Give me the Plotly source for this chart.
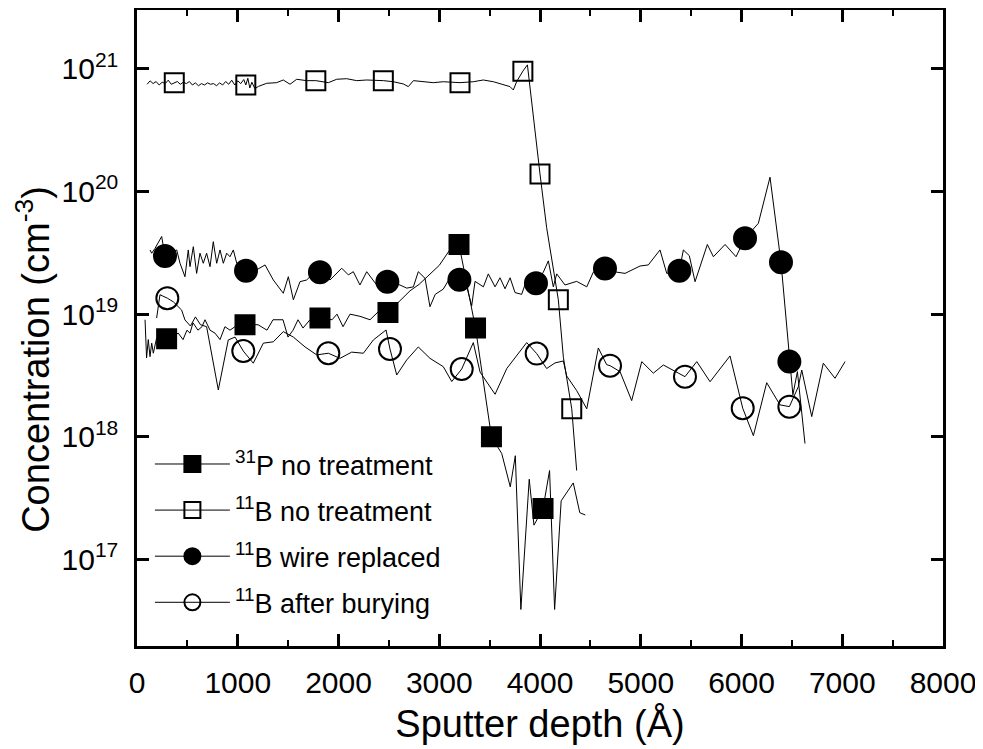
import plotly.graph_objects as go

# ---------------- data (depth in Å, concentration in cm^-3) ----------------
p_x = [80, 95, 112, 129, 146, 162, 195, 294, 409, 457, 496, 526, 556, 605, 645, 675, 725, 774, 824, 873,
       923, 972, 1072, 1201, 1290, 1350, 1449, 1499, 1549, 1598, 1648, 1717, 1816, 1936, 1985, 2045, 2114,
       2213, 2313, 2412, 2491, 2610, 2710, 2800, 2900, 3000, 3100, 3196, 3360, 3415, 3518, 3620, 3705,
       3755, 3810, 3893, 3940, 4030, 4095, 4145, 4210, 4330, 4395, 4450]
p_y = [9.0e18, 4.4e18, 6.2e18, 4.5e18, 5.8e18, 4.8e18, 6.4e18, 6.3e18, 7.0e18, 6.2e18, 7.4e18, 7.0e18,
       8.5e18, 7.4e18, 7.9e18, 9.0e18, 7.4e18, 7.0e18, 6.2e18, 7.9e18, 7.4e18, 7.9e18, 8.2e18, 8.2e18,
       7.4e18, 9.0e18, 9.0e18, 6.5e18, 7.4e18, 9.0e18, 7.7e18, 9.0e18, 9.3e18, 9.0e18, 1.0e19, 7.9e18,
       1.0e19, 9.6e18, 9.0e18, 1.08e19, 1.03e19, 1.3e19, 1.55e19, 1.75e19, 2.1e19, 2.5e19, 3.3e19, 3.7e19,
       7.7e18, 3.85e18, 1.0e18, 7.3e17, 3.9e17, 7.0e17, 3.9e16, 4.5e17, 1.9e17, 2.6e17, 5.3e17, 3.9e16,
       3.0e17, 4.2e17, 2.4e17, 2.3e17]
p_marks = [294, 1072, 1816, 2491, 3196, 3360, 3518, 4030]

bnt_x = [100, 130, 160, 190, 220, 250, 280, 310, 340, 370, 400, 430, 460, 490, 520, 550, 580, 610, 640,
         670, 700, 730, 760, 790, 820, 850, 880, 910, 940, 970, 1000, 1030, 1060, 1080, 1100, 1120, 1140,
         1170, 1204, 1287, 1386, 1452, 1519, 1585, 1684, 1775, 1899, 1982, 2081, 2181, 2280, 2445, 2544,
         2643, 2693, 2743, 2842, 2941, 3040, 3206, 3338, 3437, 3537, 3636, 3702, 3735, 3769, 3830, 3875,
         4000, 4066, 4182, 4232, 4315, 4364]
bnt_y = [7.5e20, 8.0e20, 7.6e20, 7.9e20, 7.4e20, 7.8e20, 7.6e20, 8.1e20, 7.5e20, 7.73e20, 7.9e20, 7.5e20,
         7.8e20, 7.6e20, 7.9e20, 7.4e20, 7.7e20, 7.3e20, 7.6e20, 7.4e20, 7.7e20, 7.5e20, 7.6e20, 7.3e20,
         7.7e20, 7.4e20, 7.9e20, 7.5e20, 8.1e20, 7.4e20, 8.0e20, 7.6e20, 8.2e20, 7.4e20, 8.4e20, 7.0e20,
         7.8e20, 6.9e20, 7.2e20, 7.64e20, 7.73e20, 8.13e20, 7.5e20, 8.24e20, 8.03e20, 8.03e20, 7.73e20,
         8.24e20, 8.33e20, 8.03e20, 8.13e20, 8.03e20, 7.87e20, 7.55e20, 7.18e20, 8.03e20, 7.87e20, 7.73e20,
         7.87e20, 7.73e20, 7.87e20, 8.13e20, 7.87e20, 7.4e20, 7.18e20, 6.74e20, 7.9e20, 9.6e20, 1.08e21,
         1.39e20, 5.07e19, 1.31e19, 4.45e18, 1.69e18, 5.3e17]
bnt_marks = [370, 1080, 1775, 2445, 3206, 3830, 4000, 4182, 4315]

bw_x = [129, 146, 179, 245, 278, 394, 427, 476, 509, 526, 559, 592, 625, 658, 691, 725, 757, 791, 824, 857,
        890, 923, 956, 990, 1082, 1188, 1271, 1353, 1452, 1502, 1552, 1618, 1684, 1750, 1816, 1916, 2032,
        2098, 2147, 2213, 2280, 2379, 2485, 2610, 2677, 2743, 2792, 2859, 2908, 2960, 3040, 3110, 3200,
        3273, 3322, 3355, 3438, 3487, 3554, 3603, 3653, 3703, 3752, 3818, 3868, 3960, 4033, 4083, 4132,
        4166, 4248, 4364, 4464, 4529, 4645, 4762, 4844, 4993, 5075, 5191, 5258, 5383, 5423, 5482, 5539,
        5661, 5721, 5837, 5946, 6035, 6167, 6283, 6392, 6475, 6510, 6555, 6630]
bw_y = [3.34e19, 3.14e19, 3.44e19, 4.3e19, 2.98e19, 3.34e19, 2.6e19, 2.02e19, 3.34e19, 2.44e19, 3.55e19,
        2.15e19, 3.14e19, 2.6e19, 3.14e19, 2.44e19, 3.9e19, 2.6e19, 3.34e19, 2.6e19, 3.14e19, 2.94e19,
        3.34e19, 2.6e19, 2.26e19, 2.3e19, 2.52e19, 1.9e19, 1.48e19, 2.02e19, 1.31e19, 1.84e19, 1.9e19,
        2.15e19, 2.2e19, 1.9e19, 2.37e19, 2.09e19, 2.22e19, 1.73e19, 2.22e19, 1.73e19, 1.84e19, 1.73e19,
        1.63e19, 1.67e19, 2.22e19, 1.96e19, 1.15e19, 1.45e19, 1.6e19, 2.0e19, 1.91e19, 1.67e19, 1.17e19,
        1.85e19, 1.67e19, 2.13e19, 1.67e19, 1.98e19, 1.61e19, 1.98e19, 1.5e19, 1.45e19, 1.91e19, 1.79e19,
        2.2e19, 2.72e19, 1.67e19, 2.13e19, 1.73e19, 1.85e19, 1.67e19, 2.2e19, 2.36e19, 2.2e19, 2.15e19,
        2.47e19, 2.52e19, 3.34e19, 2.15e19, 2.26e19, 3.34e19, 3.0e19, 1.84e19, 3.7e19, 2.94e19, 3.7e19,
        2.94e19, 4.16e19, 5.5e19, 1.31e20, 2.65e19, 4.1e18, 2.2e18, 3.4e18, 8.8e17]
bw_marks = [278, 1082, 1816, 2485, 3200, 3960, 4645, 5383, 6035, 6392, 6475]

ba_x = [195, 228, 301, 361, 443, 476, 530, 580, 630, 691, 807, 906, 973, 1055, 1154, 1254, 1353, 1452,
        1552, 1668, 1784, 1899, 2015, 2131, 2247, 2346, 2472, 2511, 2578, 2677, 2792, 2908, 3040, 3124,
        3223, 3338, 3405, 3554, 3670, 3868, 3967, 4066, 4149, 4232, 4265, 4364, 4464, 4579, 4662, 4695,
        4794, 4910, 5010, 5125, 5224, 5439, 5556, 5688, 5886, 6012, 6118, 6250, 6382, 6475, 6564, 6598,
        6697, 6812, 6928, 7028]
ba_y = [9.3e18, 1.44e19, 1.35e19, 1.26e19, 1.08e19, 8.97e18, 8.0e18, 9.5e18, 8.2e18, 7.9e18, 2.41e18,
        6.16e18, 6.5e18, 5.0e18, 3.98e18, 5.8e18, 5.95e18, 7.2e18, 6.5e18, 5.4e18, 4.65e18, 4.8e18,
        4.36e18, 4.9e18, 4.8e18, 6.16e18, 7.43e18, 5.2e18, 3.19e18, 4.23e18, 5.4e18, 4.36e18, 3.73e18,
        2.82e18, 3.57e18, 5.86e18, 3.37e18, 2.22e18, 3.6e18, 5.86e18, 4.77e18, 3.6e18, 4.0e18, 4.15e18,
        3.13e18, 2.38e18, 1.69e18, 5.3e18, 3.87e18, 3.8e18, 3.4e18, 1.97e18, 4.1e18, 3.3e18, 3.85e18,
        3.09e18, 4.1e18, 2.81e18, 4.56e18, 1.71e18, 1.02e18, 2.76e18, 1.82e18, 1.76e18, 2.56e18, 3.5e18,
        1.46e18, 3.98e18, 3.0e18, 4.1e18]
ba_marks = [301, 1055, 1899, 2511, 3223, 3967, 4695, 5439, 6012, 6475]

series = [
    ("<sup>31</sup>P no treatment", p_x, p_y, p_marks, "square", 19),
    ("<sup>11</sup>B no treatment", bnt_x, bnt_y, bnt_marks, "square-open", 19),
    ("<sup>11</sup>B wire replaced", bw_x, bw_y, bw_marks, "circle", 22),
    ("<sup>11</sup>B after burying", ba_x, ba_y, ba_marks, "circle-open", 22),
]

FONT = "Arial, Liberation Sans, sans-serif"
NARROW = "Liberation Sans Narrow, Arial Narrow, Liberation Sans, sans-serif"
fig = go.Figure()

for i, (name, xs, ys, marks, sym, size) in enumerate(series):
    fig.add_trace(go.Scatter(x=xs, y=ys, mode="lines", line=dict(color="black", width=1),
                             showlegend=False, hoverinfo="skip"))
for i, (name, xs, ys, marks, sym, size) in enumerate(series):
    mx = [x for x in xs if x in marks]
    my = [y for x, y in zip(xs, ys) if x in marks]
    fig.add_trace(go.Scatter(x=mx, y=my, mode="markers",
                             marker=dict(symbol=sym, size=size, color="black",
                                         line=dict(color="black", width=2)),
                             showlegend=False))
for i, (name, xs, ys, marks, sym, size) in enumerate(series):
    fig.add_trace(go.Scatter(x=[None], y=[None], mode="lines+markers", name=name,
                             legendgroup=f"g{i}",
                             line=dict(color="black", width=1),
                             marker=dict(symbol=sym, size=size, color="black",
                                         line=dict(color="black", width=2))))

axis_common = dict(showline=True, linecolor="black", linewidth=2.5, mirror="ticks",
                   ticks="inside", ticklen=12, tickwidth=2.5, tickcolor="black",
                   showgrid=False, zeroline=False, automargin=False, ticklabeloverflow="allow",
                   tickfont=dict(family=NARROW, size=30, color="black"))

fig.update_layout(
    width=983, height=749,
    margin=dict(l=129, r=48, t=2, b=111),
    paper_bgcolor="white", plot_bgcolor="white",
    font=dict(family=FONT, color="black"),
    xaxis=dict(range=[0, 8000], tickvals=[0, 1000, 2000, 3000, 4000, 5000, 6000, 7000, 8000],
               minor=dict(dtick=500, ticklen=6, tickwidth=2, ticks="inside", tickcolor="black"),
               title=dict(text="Sputter depth (Å)", font=dict(family=FONT, size=38), standoff=13),
               ticklabelstandoff=8, **axis_common),
    yaxis=dict(type="log", range=[16.293, 21.481],
               tickvals=[1e17, 1e18, 1e19, 1e20, 1e21],
               ticktext=["10<sup>17</sup>", "10<sup>18</sup>", "10<sup>19</sup>",
                         "10<sup>20</sup>", "10<sup>21</sup>"],
               ticklabelstandoff=10, **axis_common),
    legend=dict(x=0.016, y=0.324, xanchor="left", yanchor="top", bgcolor="rgba(0,0,0,0)",
                font=dict(family=FONT, size=27, color="black"), tracegroupgap=8, itemwidth=75),
    annotations=[dict(text="Concentration (cm<sup>-3</sup>)", textangle=-90,
                      xref="paper", yref="paper", x=-0.129, y=0.45,
                      xanchor="center", yanchor="middle", showarrow=False,
                      font=dict(family=FONT, size=38, color="black"))],
)

fig.write_html("out.html")
